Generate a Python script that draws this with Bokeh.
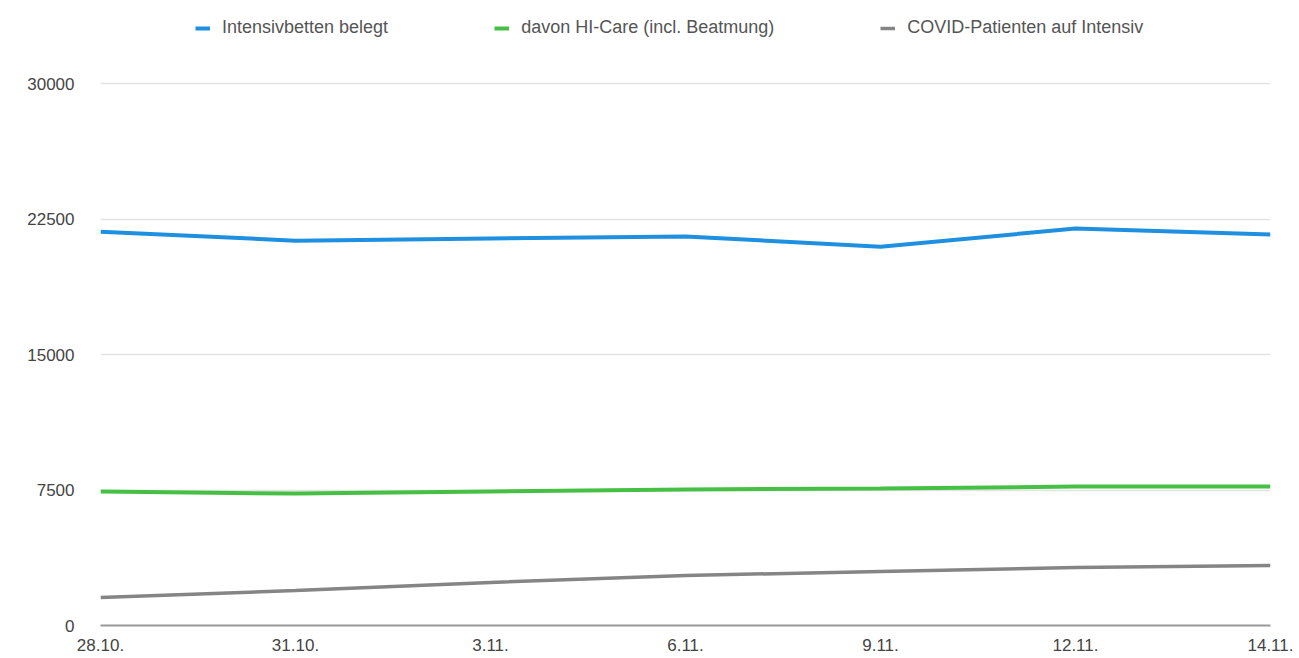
from bokeh.plotting import figure
from bokeh.models import ColumnDataSource, Range1d, FixedTicker, Legend, LegendItem
from bokeh.embed import file_html
from bokeh.resources import INLINE

dates = ["28.10.", "31.10.", "3.11.", "6.11.", "9.11.", "12.11.", "14.11."]
belegt = [21800, 21300, 21420, 21530, 20970, 21970, 21640]
hicare = [7420, 7300, 7420, 7530, 7580, 7690, 7690]
covid = [1550, 1940, 2380, 2770, 2990, 3210, 3320]
y_ticks = [0, 7500, 15000, 22500, 30000]

labels = ["Intensivbetten belegt", "davon HI-Care (incl. Beatmung)", "COVID-Patienten auf Intensiv"]
colors = ["#1f8fe0", "#45c045", "#858585"]

idx = list(range(len(dates)))
src = ColumnDataSource(dict(x=idx, belegt=belegt, hicare=hicare, covid=covid))

# frame spans 620 px; the 30000 gridline sits 542 px above the baseline
y_top = 30000 * 620 / 542

p = figure(frame_width=1170, frame_height=620, output_backend="svg", toolbar_location=None,
           x_range=Range1d(0, len(dates) - 1), y_range=Range1d(0, y_top),
           min_border_left=100, min_border_right=29, min_border_top=5, min_border_bottom=33)
p.outline_line_color = None
p.background_fill_color = "white"
p.border_fill_color = "white"

r1 = p.line("x", "belegt", source=src, line_color=colors[0], line_width=4)
r2 = p.line("x", "hicare", source=src, line_color=colors[1], line_width=4)
r3 = p.line("x", "covid", source=src, line_color=colors[2], line_width=3.5)

p.xaxis.ticker = FixedTicker(ticks=idx)
p.xaxis.major_label_overrides = {i: d for i, d in enumerate(dates)}
p.xaxis.axis_line_color = "#999999"
p.xaxis.axis_line_width = 2
p.xaxis.major_tick_line_color = None
p.xaxis.minor_tick_line_color = None
p.xaxis.major_label_standoff = 7
p.xaxis.major_label_text_font = "Liberation Sans"
p.xaxis.major_label_text_font_size = "17px"
p.xaxis.major_label_text_color = "#444444"
p.xgrid.grid_line_color = None

p.yaxis.ticker = FixedTicker(ticks=y_ticks)
p.yaxis.axis_line_color = None
p.yaxis.major_tick_line_color = None
p.yaxis.minor_tick_line_color = None
p.yaxis.major_label_standoff = 20
p.yaxis.major_label_text_font = "Liberation Sans"
p.yaxis.major_label_text_font_size = "17px"
p.yaxis.major_label_text_color = "#444444"
p.ygrid.grid_line_color = "#e3e3e3"
p.ygrid.grid_line_width = 1.5

legend = Legend(items=[LegendItem(label=labels[0], renderers=[r1]),
                       LegendItem(label=labels[1], renderers=[r2]),
                       LegendItem(label=labels[2], renderers=[r3])],
                orientation="horizontal", location=(95, 587), spacing=106,
                glyph_width=15, label_standoff=12, border_line_color=None,
                background_fill_alpha=0, label_text_font="Liberation Sans",
                label_text_font_size="18px", label_text_color="#555555", padding=0, margin=0)
p.add_layout(legend, "center")

open("out.html", "w").write(file_html(p, INLINE))
